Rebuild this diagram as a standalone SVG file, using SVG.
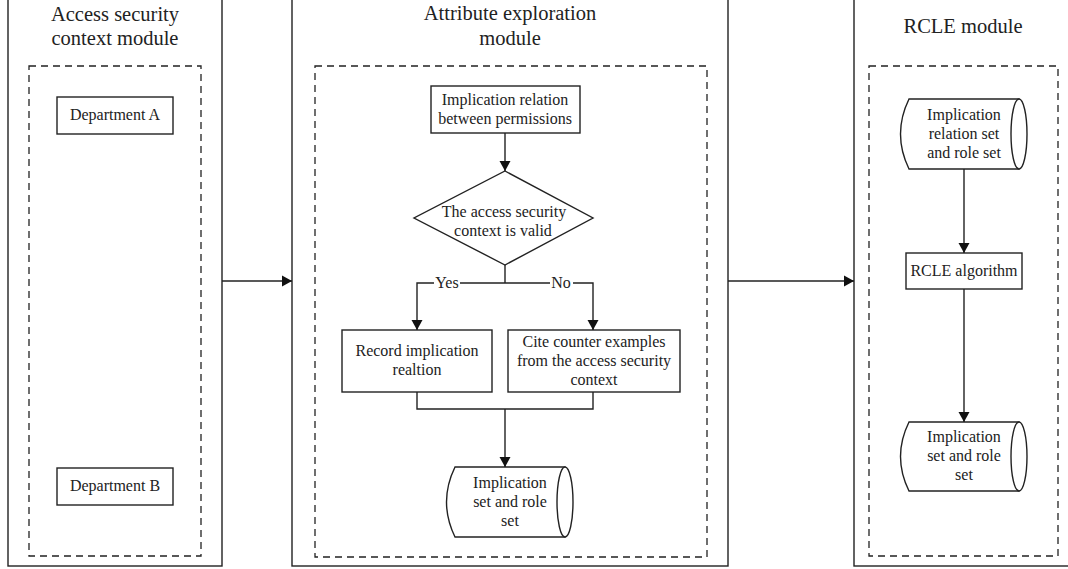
<svg xmlns="http://www.w3.org/2000/svg" width="1068" height="569" viewBox="0 0 1068 569">
<style>
.outer{fill:none;stroke:#222;stroke-width:1.4}
.dash{fill:none;stroke:#222;stroke-width:1.3;stroke-dasharray:7,5}
.box{fill:#fff;stroke:#222;stroke-width:1.4}
.ln{fill:none;stroke:#222;stroke-width:1.4}
.t{font-family:"Liberation Serif","Times New Roman",serif;font-size:16px;fill:#222;text-anchor:middle}
.ttl{font-family:"Liberation Serif","Times New Roman",serif;font-size:20.5px;fill:#222;text-anchor:middle}
</style>
<defs>
<marker id="ah" markerWidth="12" markerHeight="12" refX="10" refY="6" orient="auto" markerUnits="userSpaceOnUse">
<path d="M0,0.5 L10,6 L0,11.5 Z" fill="#111"/>
</marker>
</defs>
<rect width="1068" height="569" fill="#fff"/>

<g id="module-access">
<rect class="outer" x="8" y="-5" width="214" height="571"/>
<text class="ttl" x="115" y="21">Access security</text>
<text class="ttl" x="115" y="45">context module</text>
<rect class="dash" x="29" y="66" width="172" height="490"/>
</g>
<g id="dept-a">
<rect class="box" x="57" y="97" width="116" height="37"/>
<text class="t" x="115" y="120">Department A</text>
</g>
<g id="dept-b">
<rect class="box" x="57" y="468" width="116" height="37"/>
<text class="t" x="115" y="491">Department B</text>
</g>

<g id="module-attr">
<rect class="outer" x="292" y="-5" width="436" height="571"/>
<text class="ttl" x="510" y="20">Attribute exploration</text>
<text class="ttl" x="510" y="45">module</text>
<rect class="dash" x="315" y="66" width="392" height="491"/>
</g>
<g id="impl-relation">
<rect class="box" x="431" y="86" width="149" height="47"/>
<text class="t" x="505" y="105">Implication relation</text>
<text class="t" x="505" y="124">between permissions</text>
</g>
<g id="valid-decision">
<polygon class="box" points="505,171 593,218 505,265 414,218"/>
<text class="t" x="504" y="217">The access security</text>
<text class="t" x="503" y="236">context is valid</text>
</g>
<g id="record">
<rect class="box" x="342" y="330" width="150" height="62"/>
<text class="t" x="417" y="356">Record implication</text>
<text class="t" x="417" y="375">realtion</text>
</g>
<g id="cite">
<rect class="box" x="508" y="330" width="172" height="62"/>
<text class="t" x="594" y="347">Cite counter examples</text>
<text class="t" x="594" y="366">from the access security</text>
<text class="t" x="594" y="385">context</text>
</g>
<g id="impl-set-1">
<path class="box" d="M455,467 L565,467 L565,537 L455,537 Q438,502 455,467 Z"/>
<ellipse class="box" cx="565" cy="502" rx="8" ry="35"/>
<text class="t" x="510" y="488">Implication</text>
<text class="t" x="510" y="507">set and role</text>
<text class="t" x="510" y="526">set</text>
</g>

<g id="module-rcle">
<rect class="outer" x="854" y="-5" width="220" height="571"/>
<text class="ttl" x="963" y="33">RCLE module</text>
<rect class="dash" x="869" y="66" width="189" height="490"/>
</g>
<g id="impl-rel-set">
<path class="box" d="M909,99 L1019,99 L1019,169 L909,169 Q892,134 909,99 Z"/>
<ellipse class="box" cx="1019" cy="134" rx="8" ry="35"/>
<text class="t" x="964" y="120">Implication</text>
<text class="t" x="964" y="139">relation set</text>
<text class="t" x="964" y="158">and role set</text>
</g>
<g id="rcle-alg">
<rect class="box" x="906" y="253" width="116" height="36"/>
<text class="t" x="964" y="276">RCLE algorithm</text>
</g>
<g id="impl-set-2">
<path class="box" d="M909,422 L1019,422 L1019,491 L909,491 Q892,456.5 909,422 Z"/>
<ellipse class="box" cx="1019" cy="456.5" rx="8" ry="34.5"/>
<text class="t" x="964" y="442">Implication</text>
<text class="t" x="964" y="461">set and role</text>
<text class="t" x="964" y="480">set</text>
</g>

<g id="connectors">
<line class="ln" x1="222" y1="281" x2="292" y2="281" marker-end="url(#ah)"/>
<line class="ln" x1="728" y1="281" x2="854" y2="281" marker-end="url(#ah)"/>
<line class="ln" x1="505" y1="133" x2="505" y2="171" marker-end="url(#ah)"/>
<line class="ln" x1="505" y1="265" x2="505" y2="283"/>
<polyline class="ln" points="505,283 417,283 417,330" marker-end="url(#ah)"/>
<polyline class="ln" points="505,283 593,283 593,330" marker-end="url(#ah)"/>
<rect x="434" y="274" width="26" height="16" fill="#fff"/>
<text class="t" x="447" y="288">Yes</text>
<rect x="550" y="274" width="23" height="16" fill="#fff"/>
<text class="t" x="561" y="288">No</text>
<polyline class="ln" points="417,392 417,409 593,409 593,392"/>
<line class="ln" x1="505" y1="409" x2="505" y2="467" marker-end="url(#ah)"/>
<line class="ln" x1="964" y1="169" x2="964" y2="253" marker-end="url(#ah)"/>
<line class="ln" x1="964" y1="289" x2="964" y2="422" marker-end="url(#ah)"/>
</g>
</svg>
